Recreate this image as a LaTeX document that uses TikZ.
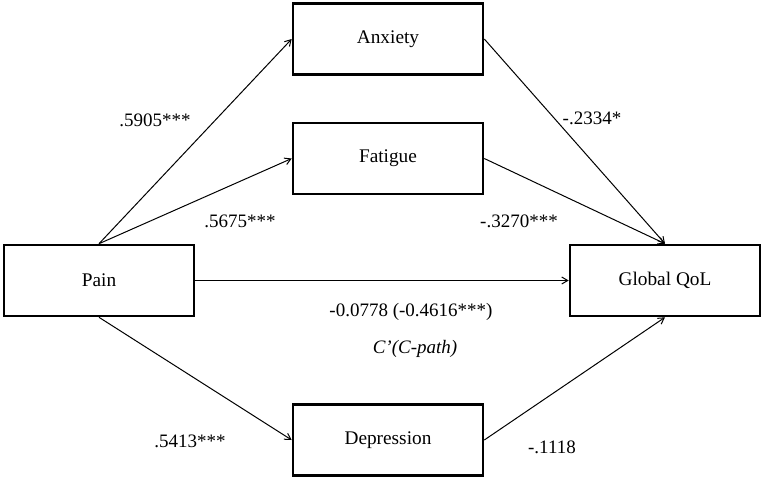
\documentclass[tikz,border=0pt]{standalone}
\usepackage{fontspec}
\setmainfont{Liberation Serif}
\usetikzlibrary{arrows.meta}
\begin{document}
\begin{tikzpicture}[x=1pt,y=-1pt,
  box/.style={draw, line width=2.6pt, minimum width=190pt, minimum height=71pt, inner sep=0pt, font=\fontsize{19.3}{22}\selectfont},
  lbl/.style={font=\fontsize{19}{22}\selectfont, inner sep=0pt},
  conn/.style={line width=1pt, -{Straight Barb[length=6pt,width=7pt]}}]
\useasboundingbox[fill=white] (0,0) rectangle (763,480);
\node[box] (anx) at (388,39) {Anxiety};
\node[box] (fat) at (388,158.5) {Fatigue};
\node[box] (pain) at (99,280.5) {Pain};
\node[box] (qol) at (665,280.5) {Global QoL};
\node[box] (dep) at (388,440) {Depression};
\draw[conn] (pain.north) -- (anx.west);
\draw[conn] (pain.north) -- (fat.west);
\draw[conn] (pain.south) -- (dep.west);
\draw[conn] (pain.east) -- (qol.west);
\draw[conn] (anx.east) -- (qol.north);
\draw[conn] (fat.east) -- (qol.north);
\draw[conn] (dep.east) -- (qol.south);
\node[lbl] (l1) at (155,120) {.5905***};
\node[lbl] (l2) at (240,221) {.5675***};
\node[lbl] (l3) at (592,118) {-.2334*};
\node[lbl] (l4) at (519,221) {-.3270***};
\node[lbl] (l5) at (411,312) {-0.0778 (-0.4616***)};
\node[lbl] (l6) at (415,349) {\itshape C'(C-path)};
\node[lbl] (l7) at (190,441) {.5413***};
\node[lbl] (l8) at (552,447) {-.1118};
\end{tikzpicture}
\end{document}
